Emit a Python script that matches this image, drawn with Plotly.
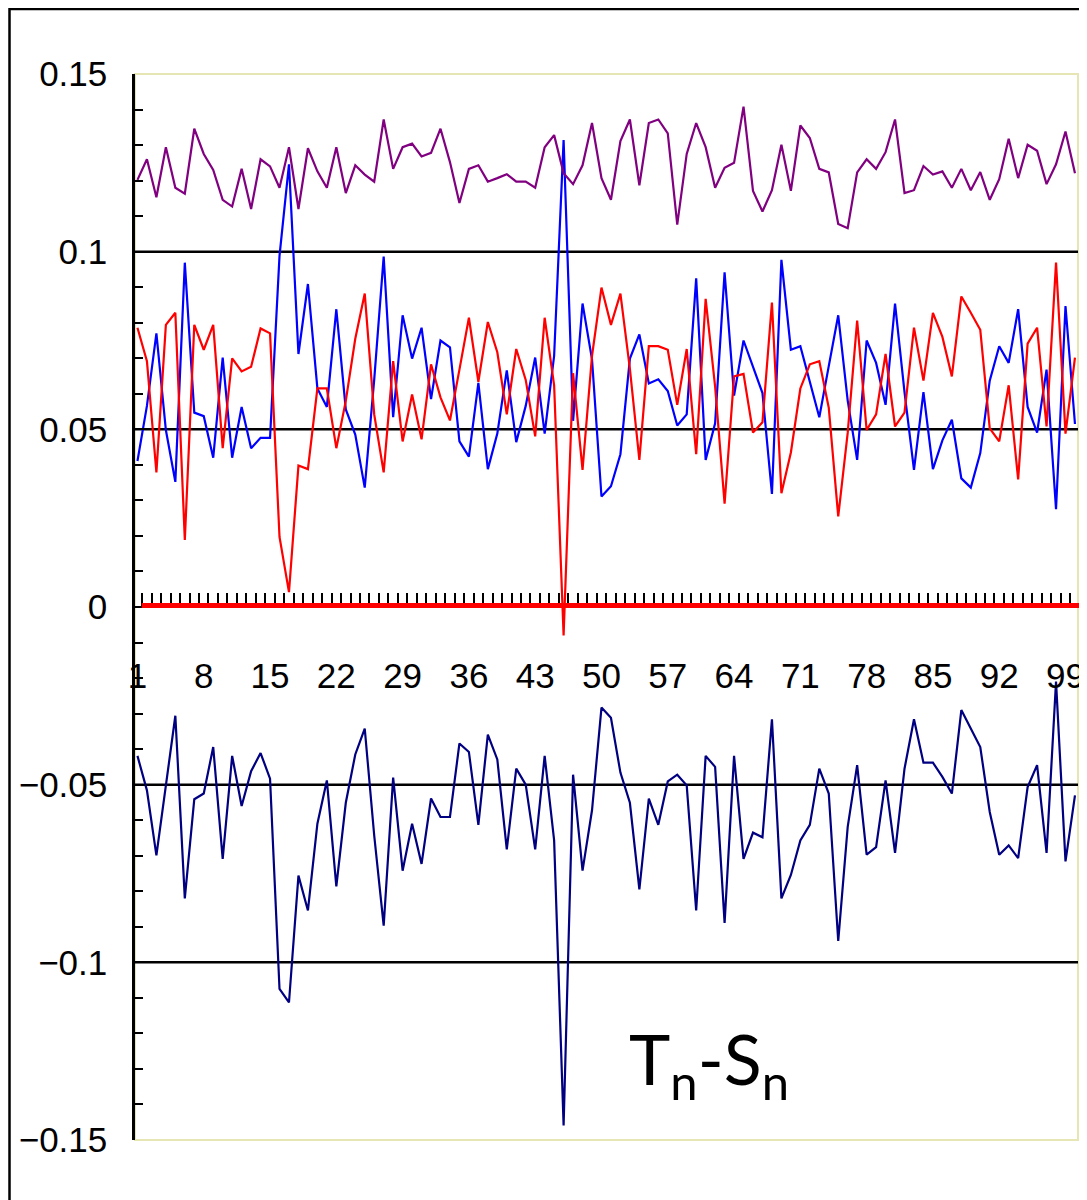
import plotly.graph_objects as go

# ---------------- data ----------------
x_index = list(range(1, 101))

purple = [0.1202, 0.126, 0.1153, 0.1294, 0.118, 0.1163, 0.1346, 0.1275, 0.123, 0.1146,
          0.1127, 0.1233, 0.112, 0.126, 0.124, 0.118, 0.1294, 0.112, 0.1291, 0.1226,
          0.118, 0.1294, 0.1165, 0.1243, 0.1217, 0.1197, 0.1372, 0.1233, 0.1294, 0.1304,
          0.1268, 0.1278, 0.1346, 0.1252, 0.1137, 0.1233, 0.1243, 0.1197, 0.1207, 0.1218,
          0.1197, 0.1197, 0.118, 0.1294, 0.1328, 0.1221, 0.119, 0.1243, 0.1362, 0.1207,
          0.1146, 0.1311, 0.1372, 0.1187, 0.1362, 0.1372, 0.1333, 0.1076, 0.1275, 0.1362,
          0.1294, 0.118, 0.1236, 0.125, 0.1408, 0.1171, 0.1113, 0.1173, 0.1301, 0.1171,
          0.1355, 0.132, 0.1233, 0.1223, 0.1078, 0.1066, 0.1223, 0.126, 0.1233, 0.128,
          0.1372, 0.1165, 0.1173, 0.1241, 0.1217, 0.1226, 0.118, 0.1233, 0.1173, 0.1224,
          0.1146, 0.1204, 0.1318, 0.1207, 0.1301, 0.1284, 0.119, 0.1246, 0.1338, 0.1221]

red = [0.0786, 0.0692, 0.0379, 0.0794, 0.0828, 0.0189, 0.0794, 0.0724, 0.0794, 0.0447,
       0.07, 0.0663, 0.0676, 0.0784, 0.077, 0.0197, 0.0042, 0.0398, 0.0388, 0.0615,
       0.0615, 0.0447, 0.058, 0.0755, 0.0882, 0.0542, 0.0379, 0.0692, 0.0466, 0.0598,
       0.0472, 0.0683, 0.059, 0.0525, 0.0668, 0.0814, 0.0634, 0.0802, 0.0717, 0.0542,
       0.0726, 0.0639, 0.048, 0.0814, 0.0624, -0.008, 0.0658, 0.0386, 0.0707, 0.0899,
       0.0794, 0.0882, 0.067, 0.0414, 0.0734, 0.0734, 0.0724, 0.0569, 0.0726, 0.043,
       0.0867, 0.062, 0.0291, 0.0649, 0.0656, 0.0491, 0.052, 0.0857, 0.032, 0.0435,
       0.0615, 0.0683, 0.0692, 0.0561, 0.0255, 0.049, 0.0806, 0.0498, 0.0542, 0.0712,
       0.0508, 0.0547, 0.0786, 0.0637, 0.0828, 0.076, 0.0649, 0.0874, 0.0828, 0.078,
       0.0503, 0.0466, 0.0624, 0.0359, 0.0741, 0.0786, 0.0508, 0.0969, 0.0488, 0.0702]

blue = [0.0411, 0.0566, 0.077, 0.0498, 0.0352, 0.0969, 0.0547, 0.0537, 0.042, 0.0702,
        0.042, 0.0563, 0.0447, 0.0476, 0.0476, 0.0988, 0.1246, 0.0712, 0.0909, 0.0615,
        0.0563, 0.0838, 0.0556, 0.0485, 0.0336, 0.064, 0.0986, 0.0534, 0.0821, 0.0699,
        0.0786, 0.0585, 0.075, 0.0731, 0.0466, 0.0423, 0.0631, 0.0388, 0.0488, 0.0666,
        0.0464, 0.0566, 0.0702, 0.0488, 0.0707, 0.1314, 0.0524, 0.0854, 0.0697, 0.0311,
        0.034, 0.043, 0.0699, 0.0767, 0.0629, 0.0641, 0.0608, 0.0511, 0.0542, 0.0925,
        0.0414, 0.0517, 0.0942, 0.0595, 0.075, 0.0678, 0.0602, 0.0318, 0.0977, 0.0724,
        0.0734, 0.0634, 0.0534, 0.0678, 0.0821, 0.0581, 0.0414, 0.075, 0.0687, 0.0569,
        0.0854, 0.0605, 0.0386, 0.0605, 0.0388, 0.0469, 0.0527, 0.0362, 0.0336, 0.0433,
        0.0637, 0.0734, 0.0687, 0.0838, 0.0563, 0.0491, 0.0668, 0.0275, 0.0847, 0.0515]

navy = [-0.0419, -0.0516, -0.0699, -0.0507, -0.0306, -0.082, -0.0541, -0.0525, -0.0394, -0.0709,
        -0.0419, -0.056, -0.0462, -0.0411, -0.0483, -0.1075, -0.1113, -0.0756, -0.0854, -0.061,
        -0.0488, -0.0786, -0.0551, -0.0415, -0.0342, -0.0643, -0.0897, -0.048, -0.0742, -0.061,
        -0.0723, -0.0539, -0.0591, -0.0591, -0.0384, -0.0408, -0.0613, -0.0359, -0.0429, -0.0682,
        -0.0455, -0.05, -0.0682, -0.0419, -0.0657, -0.1459, -0.0472, -0.0742, -0.0572, -0.0283,
        -0.0312, -0.0466, -0.0551, -0.0795, -0.0539, -0.0613, -0.0491, -0.0472, -0.0502, -0.0854,
        -0.0419, -0.045, -0.0889, -0.0419, -0.0709, -0.0635, -0.0648, -0.0316, -0.082, -0.0754,
        -0.0657, -0.0613, -0.0455, -0.0525, -0.094, -0.0619, -0.0445, -0.0697, -0.0676, -0.0488,
        -0.0692, -0.0455, -0.0316, -0.0438, -0.0438, -0.0478, -0.0525, -0.029, -0.034, -0.0394,
        -0.0577, -0.0697, -0.0671, -0.0707, -0.0507, -0.0445, -0.0692, -0.021, -0.0716, -0.053]

x_tick_vals = list(range(1, 100, 7))
x_tick_text = [str(v) for v in x_tick_vals]
y_tick_vals = [0.15, 0.1, 0.05, 0, -0.05, -0.1, -0.15]
y_tick_text = ["0.15", "0.1", "0.05", "0", "\u22120.05", "\u22120.1", "\u22120.15"]
grid_vals = [0.1, 0.05, -0.05, -0.1]
label_text = "T<sub>n</sub>-S<sub>n</sub>"

# ---------------- geometry ----------------
# the page body has an 8px margin, so the figure starts at (8, 8) in the window
OFF = 8
W, H = 1087 - OFF, 1200 - OFF
PLOT_L, PLOT_R, PLOT_T, PLOT_B = 135, 1078, 74, 1140   # in window pixels
ML, MT = PLOT_L - OFF, PLOT_T - OFF
PW, PH = PLOT_R - PLOT_L, PLOT_B - PLOT_T
MR, MB = W - ML - PW, H - MT - PH


def px_x(p):
    return (p - PLOT_L) / PW


def px_y(p):
    return (PLOT_B - p) / PH


TICK_FONT = "Liberation Sans, Arial, sans-serif"

fig = go.Figure()
series = [("blue", blue, "#0000ff"), ("red", red, "#ff0000"),
          ("purple", purple, "#800080"), ("navy", navy, "#000080")]
for name, ys, color in series:
    fig.add_trace(go.Scatter(x=x_index, y=ys, mode="lines", name=name,
                             line=dict(color=color, width=2.2), showlegend=False,
                             hoverinfo="skip"))

shapes = []
# outer frame
shapes.append(dict(type="rect", xref="paper", yref="paper",
                   x0=px_x(9.5), x1=px_x(1120), y0=px_y(1230), y1=px_y(9),
                   line=dict(color="black", width=2.5), layer="below"))
# pale plot border
shapes.append(dict(type="rect", xref="paper", yref="paper", x0=0, x1=1, y0=0, y1=1,
                   line=dict(color="#e6e6b4", width=2), layer="below"))
# gridlines
for g in grid_vals:
    shapes.append(dict(type="line", xref="paper", yref="y", x0=0, x1=1, y0=g, y1=g,
                       line=dict(color="black", width=2.5), layer="below"))
# red zero line
shapes.append(dict(type="line", xref="paper", yref="paper",
                   x0=px_x(141.7), x1=px_x(1090), y0=px_y(605.5), y1=px_y(605.5),
                   line=dict(color="#ff0000", width=5), layer="above"))

fig.update_layout(
    width=W, height=H,
    margin=dict(l=ML, r=MR, t=MT, b=MB, pad=0, autoexpand=False),
    paper_bgcolor="white", plot_bgcolor="white",
    showlegend=False,
    shapes=shapes,
    xaxis=dict(range=[0.74, 100.32], anchor="free", position=0.5, automargin=False,
               showline=True, linecolor="black", linewidth=2,
               showgrid=False, zeroline=False,
               tickmode="array", tickvals=x_tick_vals, ticktext=x_tick_text,
               ticks="", ticklabelstandoff=38, ticklabeloverflow="allow",
               minor=dict(tickmode="linear", tick0=0.5, dtick=1, ticks="inside",
                          ticklen=13, tickwidth=1.5, tickcolor="black", showgrid=False),
               tickfont=dict(family=TICK_FONT, size=35, color="black")),
    yaxis=dict(range=[-0.15, 0.15], showline=True, linecolor="black", linewidth=2.5,
               showgrid=False, zeroline=False, automargin=False,
               tickmode="array", tickvals=y_tick_vals, ticktext=y_tick_text,
               ticks="inside", ticklen=10, tickwidth=2, tickcolor="black",
               ticklabelstandoff=18, ticklabeloverflow="allow",
               minor=dict(tickmode="linear", tick0=0, dtick=0.01, ticks="inside",
                          ticklen=8, tickwidth=2, tickcolor="black", showgrid=False),
               tickfont=dict(family=TICK_FONT, size=35, color="black")),
    annotations=[dict(text=label_text, xref="paper", yref="paper",
                      x=px_x(627), y=px_y(1063), xanchor="left", yanchor="middle",
                      showarrow=False,
                      font=dict(family="Lato, Open Sans, sans-serif", size=70, color="black"))],
)

fig.write_html("out.html")
